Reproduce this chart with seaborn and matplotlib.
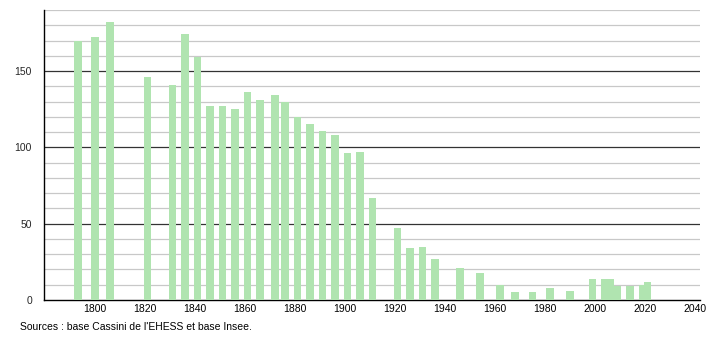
import numpy as np
import pandas as pd
import seaborn as sns
import matplotlib
matplotlib.use("Agg")
import matplotlib.pyplot as plt
from matplotlib.ticker import MultipleLocator

years = [1793, 1800, 1806, 1821, 1831, 1836, 1841, 1846, 1851, 1856,
         1861, 1866, 1872, 1876, 1881, 1886, 1891, 1896, 1901, 1906,
         1911, 1921, 1926, 1931, 1936, 1946, 1954, 1962, 1968, 1975,
         1982, 1990, 1999, 2004, 2006, 2009, 2014, 2019, 2021]
population = [170, 172, 182, 146, 141, 174, 159, 127, 127, 125,
              136, 131, 134, 130, 120, 115, 111, 108, 96, 97,
              67, 47, 34, 35, 27, 21, 18, 10, 5, 5,
              8, 6, 14, 14, 14, 9, 9, 10, 12]
x_ticks = [1800, 1820, 1840, 1860, 1880, 1900, 1920, 1940, 1960, 1980, 2000, 2020, 2040]
y_labels = [0, 50, 100, 150]
source_text = "Sources : base Cassini de l'EHESS et base Insee."

df = pd.DataFrame({"year": years, "pop": population})

sns.set_style("white")
plt.rcParams["font.family"] = ["Liberation Sans", "DejaVu Sans"]

fig = plt.figure(figsize=(7.10, 3.40), dpi=100)
ax = fig.add_axes([44 / 710, 1 - 300 / 340, (700 - 44) / 710, 290 / 340])

bar_years = 3.2
min_gap = np.min(np.diff(sorted(years)))
sns.barplot(data=df, x="year", y="pop", native_scale=True,
            width=bar_years / min_gap, color="#b0e4b0", saturation=1,
            edgecolor="none", linewidth=0, ax=ax, zorder=3)

ax.set_xlim(1779.6, 2042)
ax.set_ylim(0, 190)

# gridlines
for v in range(10, 191, 10):
    if v % 50 == 0:
        ax.axhline(v, color="#333333", lw=0.9, zorder=1)
    else:
        ax.axhline(v, color="#c8c8c8", lw=0.9, zorder=1)

ax.set_xticks(x_ticks)
ax.set_xticklabels([str(t) for t in x_ticks])
ax.set_yticks(y_labels)
ax.set_yticklabels([str(t) for t in y_labels])
ax.yaxis.set_minor_locator(MultipleLocator(10))

ax.tick_params(axis="x", length=0, labelsize=7.5, pad=3, colors="#000000")
ax.tick_params(axis="y", which="major", length=3.6, width=0.9, labelsize=7.5,
               pad=5, direction="out", color="#000000")
ax.tick_params(axis="y", which="minor", length=2.2, width=0.9, direction="out",
               color="#000000")

for s in ["top", "right"]:
    ax.spines[s].set_visible(False)
ax.spines["left"].set_color("#000000")
ax.spines["left"].set_linewidth(1.0)
ax.spines["bottom"].set_color("#000000")
ax.spines["bottom"].set_linewidth(1.0)
ax.set_xlabel("")
ax.set_ylabel("")

fig.text(20 / 710, 1 - 327 / 340, source_text, fontsize=7.5, va="center",
         ha="left", color="#000000")

fig.savefig("out.png", dpi=100, facecolor="white")
